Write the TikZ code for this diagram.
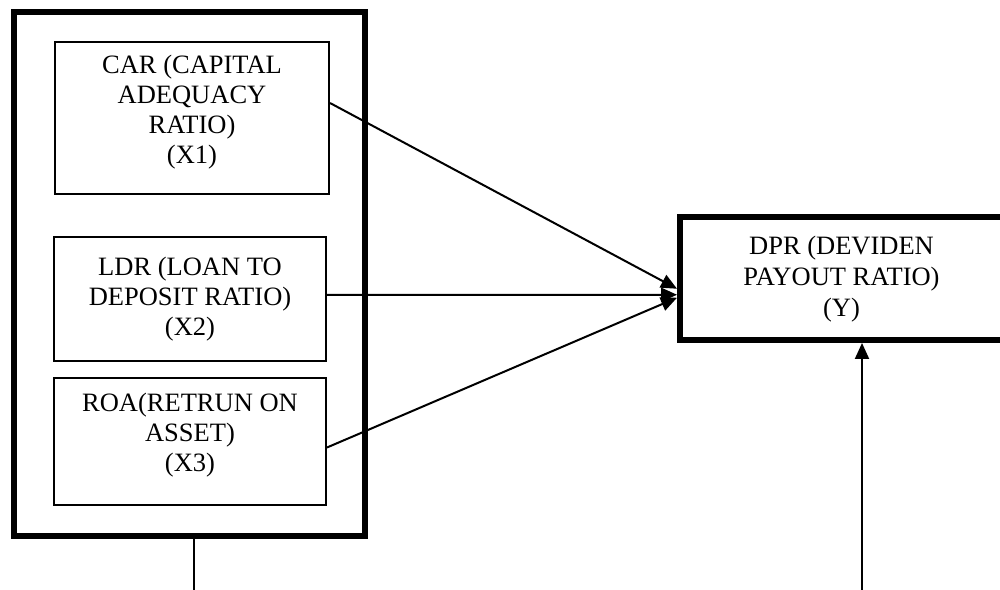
\documentclass[tikz,border=0pt]{standalone}
\usepackage{fontspec}
\setmainfont{Liberation Serif}
\usetikzlibrary{arrows.meta}
\usetikzlibrary{positioning}
\tikzset{varbox/.style = {draw, line width=2pt, align=center, inner sep=0pt,
                          font=\fontsize{26.5}{30}\selectfont}}
\tikzset{heavybox/.style = {draw, line width=6pt, align=center, inner sep=0pt,
                            font=\fontsize{26.5}{31}\selectfont}}
\tikzset{link/.style = {line width=2pt, -{Triangle[length=16pt, width=14pt]}}}

\begin{document}
\begin{tikzpicture}[x=1pt, y=1pt]
      \useasboundingbox (0, 0) rectangle (1000, 589);
      \node [heavybox, minimum width=351pt, minimum height=524pt] (grp) at (189.5, 315.25) {};
      \node [varbox, minimum width=274pt, minimum height=152pt] (car) at (192, 471)
            {CAR (CAPITAL\\ADEQUACY\\RATIO)\\(X1)\\[-12pt]\mbox{}};
      \node [varbox, minimum width=272pt, minimum height=124pt] (ldr) at (190, 290)
            {LDR (LOAN TO\\DEPOSIT RATIO)\\(X2)};
      \node [varbox, minimum width=272pt, minimum height=127pt] (roa) at (190, 147.5)
            {ROA(RETRUN ON\\ASSET)\\(X3)\\[-12pt]\mbox{}};
      \node [heavybox, minimum width=323pt, minimum height=122.5pt] (dpr) at (841.5, 310.25)
            {DPR (DEVIDEN\\PAYOUT RATIO)\\(Y)};
      \coordinate (hub) at ([yshift=-16pt]dpr.west);
      \coordinate (grpout) at (194, -5);
      \coordinate (yin) at (862, -5);
      \draw [link] ([yshift=15pt]car.east) -- ([yshift=6pt]hub);
      \draw [link] ([yshift=4pt]ldr.east) -- (hub);
      \draw [link] ([yshift=-6pt]roa.east) -- ([yshift=-3pt]hub);
      \draw [line width=2pt] (grp.south -| grpout) -- (grpout);
      \draw [link] (yin) -- (dpr.south -| yin);
    \end{tikzpicture}
\end{document}
